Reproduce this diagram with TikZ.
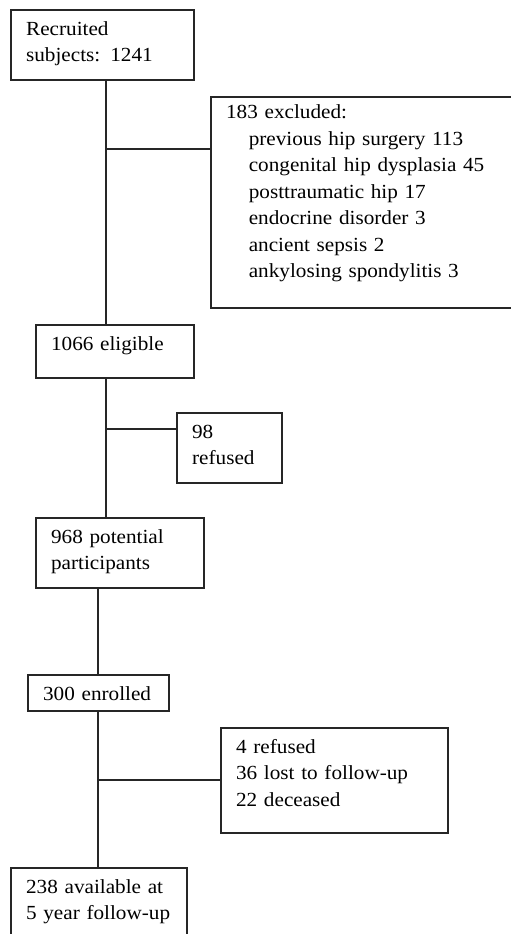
\documentclass[tikz,border=0pt]{standalone}
\usepackage{fontspec}
\setmainfont{Liberation Serif}[FakeStretch=1.06]
\usetikzlibrary{positioning}

\newcommand{\ind}{\hspace*{17pt}}

\begin{document}
\begin{tikzpicture}[
    x=0.75pt, y=-0.75pt,
    stage/.style = {rectangle, draw=black!85, line width=1.2pt, anchor=north west,
                    align=left, inner xsep=11.5pt, inner ysep=0pt, text height=19pt,
                    font=\fontsize{15}{19.9}\selectfont},
    link/.style  = {draw=black!85, line width=1.2pt},
]
\useasboundingbox (0,0) rectangle (510,934);

\node[stage, text width=114.25pt, text depth=33.5pt]  (rec)   at (10,9)
    {Recruited\\subjects: 1241};
\node[stage, text width=205.75pt, text height=16.5pt, text depth=141.75pt] (excl) at (210,96)
    {183 excluded:\\
     \ind previous hip surgery 113\\
     \ind congenital hip dysplasia 45\\
     \ind posttraumatic hip 17\\
     \ind endocrine disorder 3\\
     \ind ancient sepsis 2\\
     \ind ankylosing spondylitis 3};
\node[stage, text width=95.5pt,  text depth=20.75pt] (elig)  at (35,324)  {1066 eligible};
\node[stage, text width=55.75pt, text depth=33.5pt]  (ref98) at (176,412) {98\\refused};
\node[stage, text width=103pt,   text depth=33.5pt]  (pot)   at (35,517)
    {968 potential\\participants};
\node[stage, text width=82.75pt, text depth=8pt]     (enr)   at (27,674)  {300 enrolled};
\node[stage, text width=147.25pt, text depth=59.75pt] (lost) at (220,727)
    {4 refused\\36 lost to follow-up\\22 deceased};
\node[stage, text width=109pt,   text depth=35pt]    (avail) at (10,867)
    {238 available at\\5 year follow-up};

% trunk junctions
\coordinate (ja) at (106,149);
\coordinate (jb) at (106,429);
\coordinate (jc) at (98,780);

\draw[link] (rec.south -| ja)  -- (elig.north -| ja);
\draw[link] (ja) -- (ja -| excl.west);
\draw[link] (elig.south -| jb) -- (pot.north -| jb);
\draw[link] (jb) -- (jb -| ref98.west);
\draw[link] (pot.south -| jc)  -- (enr.north -| jc);
\draw[link] (enr.south -| jc)  -- (avail.north -| jc);
\draw[link] (jc) -- (jc -| lost.west);

\end{tikzpicture}
\end{document}
